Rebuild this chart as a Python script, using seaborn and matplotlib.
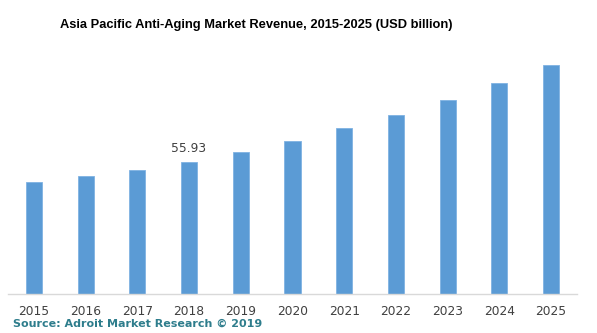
import matplotlib
matplotlib.use("Agg")
import matplotlib.pyplot as plt
import seaborn as sns
import pandas as pd

years = ["2015", "2016", "2017", "2018", "2019", "2020",
         "2021", "2022", "2023", "2024", "2025"]
revenue = [47.4, 49.9, 52.6, 55.93, 60.0, 64.7, 70.0, 75.8, 82.0, 89.1, 96.7]
labelled_year = "2018"

df = pd.DataFrame({"year": years, "revenue": revenue})

sns.set_style("white")
plt.rcParams["font.family"] = ["DejaVu Sans"]

W, H = 597, 333
fig = plt.figure(figsize=(W / 100, H / 100), dpi=100)
ax = fig.add_axes([8 / W, (H - 294) / H, (577 - 8) / W, (294 - 57.5) / H])

sns.barplot(data=df, x="year", y="revenue", color="#5B9BD5", saturation=1,
            width=0.31, edgecolor="#7FB2E3", linewidth=0.6, ax=ax)

ax.set_xlim(-0.5, len(years) - 0.5)
ax.set_ylim(0, 100)
ax.set_xlabel("")
ax.set_ylabel("")
ax.set_yticks([])
for side in ("top", "right", "left"):
    ax.spines[side].set_visible(False)
ax.spines["bottom"].set_color("#D9D9D9")
ax.spines["bottom"].set_linewidth(1.0)
ax.tick_params(axis="x", length=0, pad=8, labelsize=8.8, labelcolor="#404040")

i = years.index(labelled_year)
ax.annotate(f"{revenue[i]:.2f}", (i, revenue[i]), xytext=(0, 4.5),
            textcoords="offset points", ha="center", va="bottom",
            fontsize=8.8, color="#404040")

fig.text(256 / W, 1 - 25 / H,
         "Asia Pacific Anti-Aging Market Revenue, 2015-2025 (USD billion)",
         ha="center", va="center", fontsize=9.3, fontweight="bold",
         family=["Liberation Sans"], color="black")
fig.text(13 / W, 1 - 324 / H, "Source: Adroit Market Research © 2019",
         ha="left", va="center", fontsize=8.0, fontweight="bold",
         color="#2E7D8C")

fig.savefig("out.png", dpi=100)
